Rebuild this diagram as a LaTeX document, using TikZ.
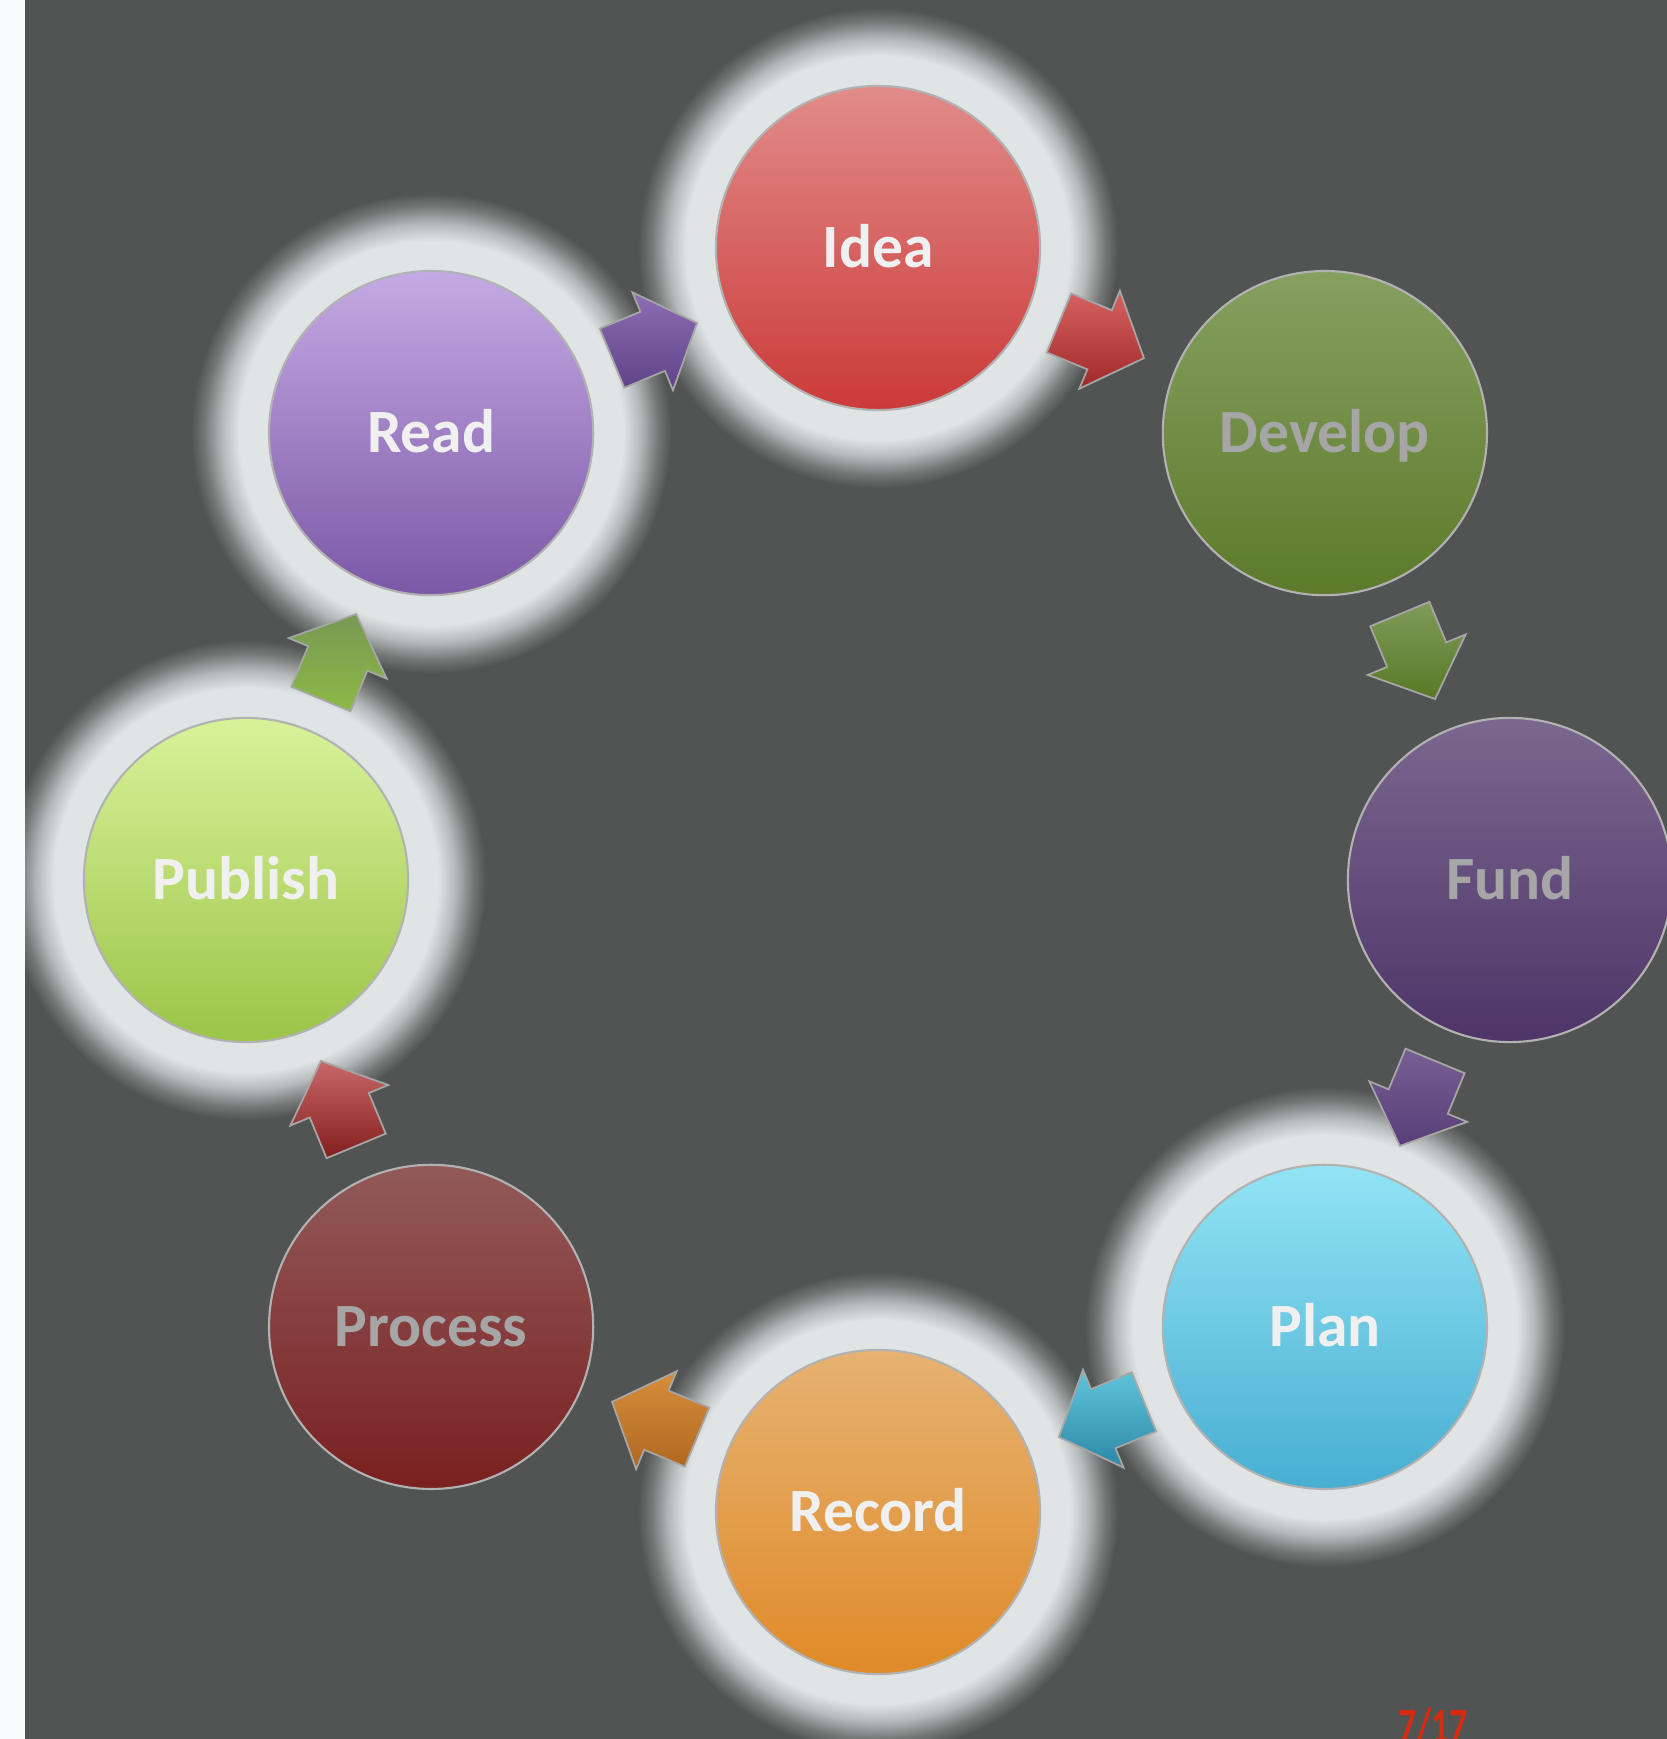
\documentclass[tikz,border=0pt]{standalone}
\usepackage{fontspec}
\setmainfont{Carlito}
\usetikzlibrary{calc, backgrounds}

\definecolor{slidebg}{RGB}{82,84,83}
\definecolor{slideedge}{RGB}{248,252,253}
\definecolor{halolight}{RGB}{224,228,229}
\definecolor{pagered}{RGB}{216,42,16}
% stage fills (top / bottom of the gradient)
\definecolor{ideatop}{RGB}{225,140,138}
\definecolor{ideabot}{RGB}{203,58,56}
\definecolor{devtop}{RGB}{134,160,96}
\definecolor{devbot}{RGB}{92,122,42}
\definecolor{fundtop}{RGB}{122,104,144}
\definecolor{fundbot}{RGB}{78,52,104}
\definecolor{plantop}{RGB}{146,228,244}
\definecolor{planbot}{RGB}{72,174,210}
\definecolor{rectop}{RGB}{230,178,114}
\definecolor{recbot}{RGB}{224,138,40}
\definecolor{proctop}{RGB}{146,90,90}
\definecolor{procbot}{RGB}{122,32,32}
\definecolor{pubtop}{RGB}{216,242,154}
\definecolor{pubbot}{RGB}{156,196,72}
\definecolor{readtop}{RGB}{196,170,228}
\definecolor{readbot}{RGB}{124,88,166}
% arrow fills
\definecolor{ideaarrtop}{RGB}{214,98,98}
\definecolor{ideaarrbot}{RGB}{160,40,40}
\definecolor{devarrtop}{RGB}{128,156,90}
\definecolor{devarrbot}{RGB}{88,120,38}
\definecolor{fundarrtop}{RGB}{118,96,146}
\definecolor{fundarrbot}{RGB}{88,62,120}
\definecolor{planarrtop}{RGB}{96,196,220}
\definecolor{planarrbot}{RGB}{44,136,166}
\definecolor{recarrtop}{RGB}{214,142,60}
\definecolor{recarrbot}{RGB}{176,104,32}
\definecolor{procarrtop}{RGB}{200,104,104}
\definecolor{procarrbot}{RGB}{132,30,30}
\definecolor{pubarrtop}{RGB}{120,152,84}
\definecolor{pubarrbot}{RGB}{140,186,70}
\definecolor{readarrtop}{RGB}{140,110,180}
\definecolor{readarrbot}{RGB}{96,66,136}

\pgfdeclareradialshading{halo}{\pgfpointorigin}{color(0bp)=(halolight); color(20bp)=(halolight); color(21.8bp)=(halolight!70!slidebg); color(23.6bp)=(halolight!25!slidebg); color(25bp)=(slidebg); color(50bp)=(slidebg)}

\tikzset{
  stage/.style 2 args={circle, minimum size=3.24cm, inner sep=0pt, draw=black!30, line width=0.6pt,
    top color=#1, bottom color=#2, font=\bfseries\fontsize{17.5}{20}\selectfont,
    text height=11.3pt, text depth=0pt},
  lit/.style={text=white!94!black},
  dim/.style={text=black!35},
  pics/stagearrow/.style 2 args={code={
    \draw[draw=black!35, line width=0.5pt, top color=#1, bottom color=#2]
      (-46,-32) -- (-2,-32) -- (-2,-53) -- (46,0) -- (-2,53) -- (-2,32) -- (-46,32) -- cycle;
  }}
}

\begin{document}
\begin{tikzpicture}[x=0.01cm, y=0.01cm]
  \useasboundingbox (0,0) rectangle (1667,1739);
  \coordinate (ctr) at (878,859);

  % The eight stages, clockwise from the top
  \node[stage={ideatop}{ideabot}, lit] (idea) at ($(ctr)+(90:632)$) {Idea};
  \node[stage={devtop}{devbot}, dim] (develop) at ($(ctr)+(45:632)$) {Develop};
  \node[stage={fundtop}{fundbot}, dim] (fund) at ($(ctr)+(0:632)$) {Fund};
  \node[stage={plantop}{planbot}, lit] (plan) at ($(ctr)+(-45:632)$) {Plan};
  \node[stage={rectop}{recbot}, lit] (record) at ($(ctr)+(-90:632)$) {Record};
  \node[stage={proctop}{procbot}, dim] (process) at ($(ctr)+(-135:632)$) {Process};
  \node[stage={pubtop}{pubbot}, lit] (publish) at ($(ctr)+(180:632)$) {Publish};
  \node[stage={readtop}{readbot}, lit] (read) at ($(ctr)+(135:632)$) {Read};

  % Arrows halfway between neighbouring stages
  \foreach \src/\dst/\ac in {idea/develop/ideaarr, develop/fund/devarr, fund/plan/fundarr,
      plan/record/planarr, record/process/recarr, process/publish/procarr,
      publish/read/pubarr, read/idea/readarr}{
    \pgfmathanglebetweenpoints{\pgfpointanchor{\src}{center}}{\pgfpointanchor{\dst}{center}}
    \let\arrowdir\pgfmathresult
    \pic[rotate=\arrowdir] at ($(\src)!0.5!(\dst)$) {stagearrow={\ac top}{\ac bot}};
  }

  % Page number
  \node[text=pagered, font=\bfseries\fontsize{14}{16}\selectfont, anchor=base west,
    inner sep=0pt, xscale=0.72, transform shape] (pagenum) at (1398,-4) {7/17};

  % Backdrop and glow round the lit stages
  \begin{scope}[on background layer]
    \fill[slidebg] (0,0) rectangle (1667,1739);
    \foreach \s in {idea, plan, record, publish, read}
      \shade[shading=halo] (\s.center) circle (240);
    \fill[slideedge] (0,0) rectangle (25,1739);
  \end{scope}
\end{tikzpicture}
\end{document}
